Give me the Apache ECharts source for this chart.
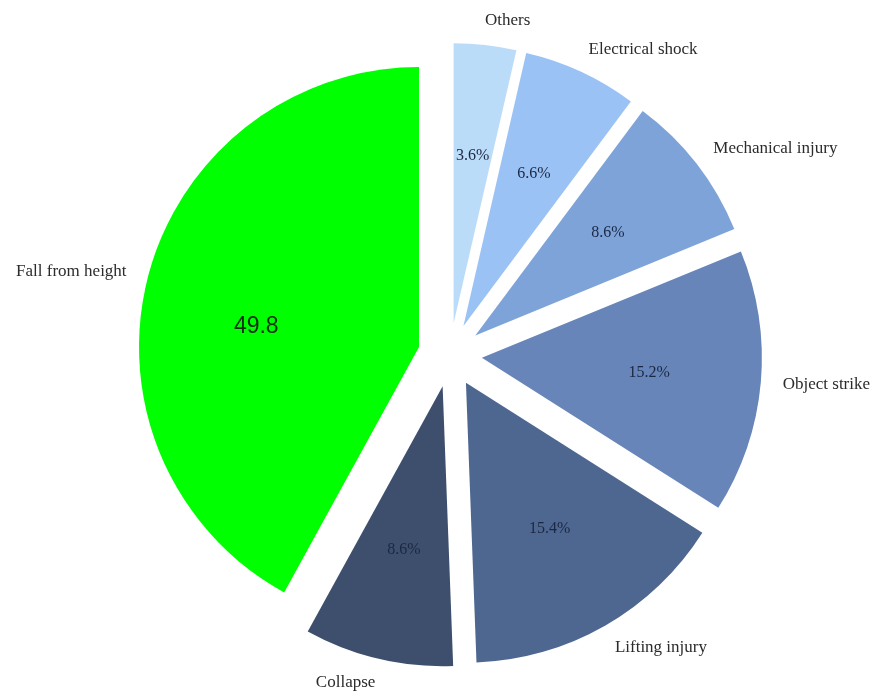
<!DOCTYPE html>
<html><head><meta charset="utf-8">
<script src="https://cdn.jsdelivr.net/npm/echarts@6/dist/echarts.min.js"></script>
<style>html,body{margin:0;padding:0;background:#fff}#c{width:874px;height:696px}</style>
</head><body><div id="c"></div>
<script>
const categories = ['Others','Electrical shock','Mechanical injury','Object strike','Lifting injury','Collapse','Fall from height'];
const values = [3.6, 6.6, 8.6, 15.2, 15.4, 8.6, 42.0];
const valueLabels = ['3.6%','6.6%','8.6%','15.2%','15.4%','8.6%','49.8'];
const colors = ['#BBDCF9','#9AC2F5','#7DA3D9','#6785B8','#4E6790','#3D4F6D','#00FF00'];

const chart = echarts.init(document.getElementById('c'), null, {renderer:'canvas'});
const center = [450, 355];
const common = { type:'pie', center: center, startAngle:90, clockwise:true, selectedMode:'multiple', selectedOffset:32, avoidLabelOverlap:false, animation:false, emphasis:{disabled:true}};
const outer = Object.assign({}, common, {
  z: 2,
  radius: 280,
  data: categories.map((n,i)=>({name:n, value:values[i], selected:true, itemStyle:{color:colors[i]}})),
  label:{show:true, position:'outside', formatter:'{b}', fontFamily:'Liberation Serif', fontSize:17, color:'#2b2b2b', distanceToLabelLine:-3, width:160, overflow:'none'},
  labelLine:{show:false, length:25, length2:0}
});
const inner = Object.assign({}, common, {
  z: 3,
  radius: 330,
  silent: true,
  data: categories.map((n,i)=>{
    const d = {name:n, value:values[i], selected:true, itemStyle:{color:'rgba(0,0,0,0)'}};
    if (i === 6) d.label = {fontFamily:'Liberation Sans', fontSize:23, color:'#123012', lineHeight:42,
                            formatter: p => '\n' + valueLabels[p.dataIndex]};
    return d;
  }),
  label:{show:true, position:'inside', formatter: p => valueLabels[p.dataIndex], fontFamily:'Liberation Serif', fontSize:16, color:'#1b2843'},
  labelLine:{show:false}
});
chart.setOption({backgroundColor:'#fff', animation:false, series:[outer, inner]});
</script></body></html>
